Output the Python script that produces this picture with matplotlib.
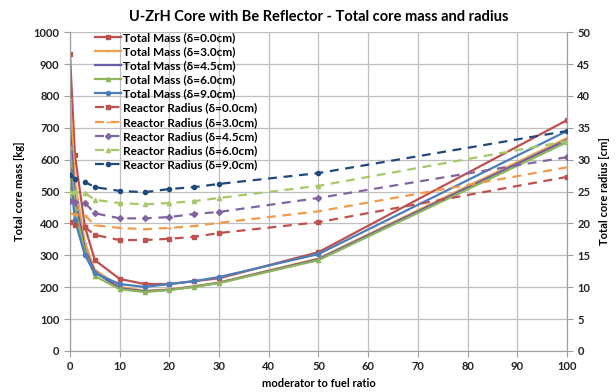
import matplotlib
matplotlib.use("Agg")
import matplotlib.pyplot as plt

ratio = [0, 1, 3, 5, 10, 15, 20, 25, 30, 50, 100]

mass_d0 = [930, 614, 390, 285, 226, 210, 210, 219, 228, 310, 724]
mass_d3 = [790, 530, 340, 255, 201, 189, 193, 203, 215, 290, 668]
mass_d45 = [700, 480, 320, 248, 197, 187, 192, 202, 214, 288, 662]
mass_d6 = [640, 450, 310, 235, 194, 185, 191, 201, 213, 285, 655]
mass_d9 = [565, 410, 301, 244, 210, 201, 210, 219, 232, 304, 690]

rad_d0 = [20.2, 19.8, 19.4, 18.2, 17.4, 17.4, 17.6, 17.9, 18.5, 20.2, 27.3]
rad_d3 = [21.6, 21.4, 21.3, 19.7, 19.3, 19.1, 19.3, 19.6, 20.1, 21.9, 28.8]
rad_d45 = [23.5, 23.4, 23.2, 21.6, 20.8, 20.8, 21.0, 21.5, 21.8, 24.0, 30.4]
rad_d6 = [24.9, 24.9, 24.8, 23.7, 23.2, 23.0, 23.2, 23.5, 24.0, 25.9, 32.9]
rad_d9 = [27.6, 27.0, 26.5, 25.7, 25.1, 24.9, 25.4, 25.7, 26.2, 27.9, 34.5]

deltas = ["0.0", "3.0", "4.5", "6.0", "9.0"]
mass_series = [mass_d0, mass_d3, mass_d45, mass_d6, mass_d9]
rad_series = [rad_d0, rad_d3, rad_d45, rad_d6, rad_d9]

mass_colors = ["#C0504D", "#F0A050", "#6A5AA8", "#8DB55A", "#4A7EBB"]
rad_colors = ["#C0504D", "#F09A4A", "#8064A2", "#A6C86A", "#1F497D"]
mass_markers = ["s", "_", None, "^", "o"]
rad_markers = ["s", "_", "D", "^", "o"]

plt.rcParams['font.family'] = ['Lato', 'DejaVu Sans']

fig = plt.figure(figsize=(6.16, 3.92), dpi=100)
ax = fig.add_axes([0.1136, 0.1046, 0.8068, 0.8134])
ax2 = ax.twinx()

handles = []
for d, ys, c, m in zip(deltas, mass_series, mass_colors, mass_markers):
    h, = ax.plot(ratio, ys, color=c, lw=1.6, marker=m, ms=3, mew=1.0,
                 label=f"Total Mass (δ={d}cm)", zorder=3)
    handles.append(h)
for d, ys, c, m in zip(deltas, rad_series, rad_colors, rad_markers):
    h, = ax2.plot(ratio, ys, color=c, lw=1.6, ls=(0, (4, 3)), marker=m, ms=3,
                  mew=1.0, label=f"Reactor Radius (δ={d}cm)", zorder=3)
    handles.append(h)

ax.set_xlim(0, 100)
ax.set_ylim(0, 1000)
ax2.set_ylim(0, 50)
ax.set_xticks(range(0, 101, 10))
ax.set_yticks(range(0, 1001, 100))
ax2.set_yticks(range(0, 51, 5))
ax.grid(True, color="#BFBFBF", lw=0.9)
ax.set_axisbelow(True)

for a in (ax, ax2):
    for s in a.spines.values():
        s.set_color("#A0A0A0")
    a.spines['top'].set_visible(False)
    a.tick_params(colors="#222222", labelsize=8, length=4, width=0.8)
    for t in a.get_xticklabels() + a.get_yticklabels():
        t.set_fontweight('bold')
ax.tick_params(axis='both', color="#A0A0A0")
ax2.tick_params(axis='y', color="#A0A0A0")

ax.set_xlabel("moderator to fuel ratio", fontsize=8, fontweight='bold', labelpad=4)
ax.set_ylabel("Total core mass [kg]", fontsize=8, fontweight='bold', labelpad=6)
ax2.set_ylabel("Total core radius [cm]", fontsize=8, fontweight='bold', labelpad=6)
ax.set_title("U-ZrH Core with Be Reflector - Total core mass and radius",
             fontsize=10.5, fontweight='bold', pad=8)

leg = ax.legend(handles=handles, loc='upper left', bbox_to_anchor=(0.04, 1.015),
                frameon=False, prop={'weight': 'bold', 'size': 8.6},
                handlelength=2.2, handletextpad=0.2, labelspacing=0.26,
                borderaxespad=0)
leg.set_zorder(5)

fig.savefig("out.png", dpi=100)
